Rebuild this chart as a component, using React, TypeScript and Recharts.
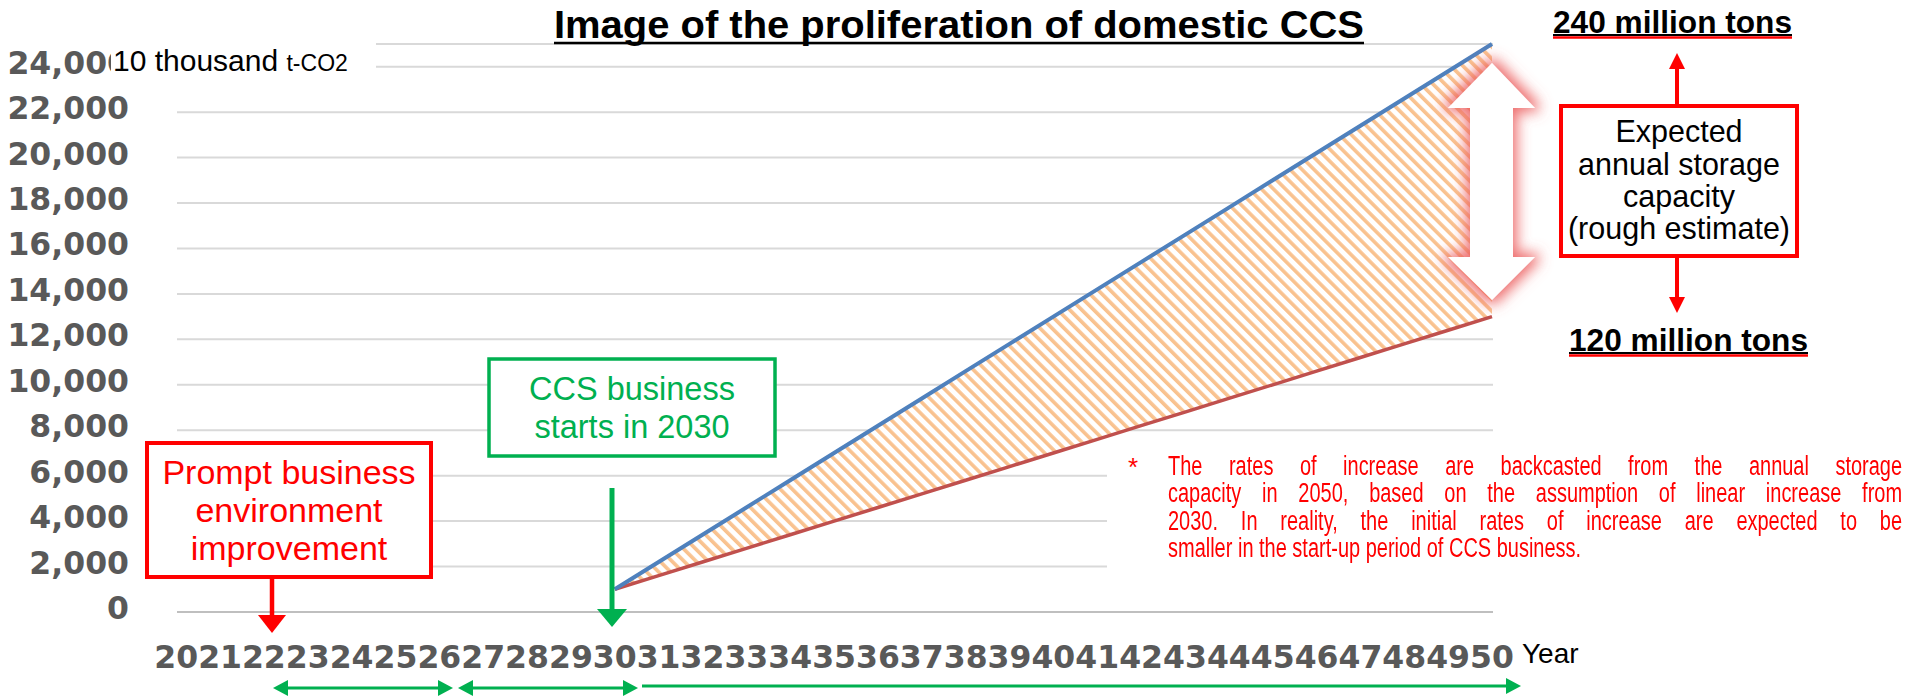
import React from 'react';
import { ComposedChart, Area, Line, XAxis, YAxis, CartesianGrid } from 'recharts';

const YEARS = ['2021', '22', '23', '24', '25', '26', '27', '28', '29', '30', '31', '32', '33', '34', '35', '36', '37', '38', '39', '40', '41', '42', '43', '44', '45', '46', '47', '48', '49', '50'];

// 10 thousand t-CO2, both cases start in 2030
const HIGH_CASE = [null, null, null, null, null, null, null, null, null, 1000, 2200, 3400, 4600, 5800, 7000, 8200, 9400, 10600, 11800, 13000, 14200, 15400, 16600, 17800, 19000, 20200, 21400, 22600, 23800, 25000];
const LOW_CASE = [null, null, null, null, null, null, null, null, null, 1000, 1600, 2200, 2800, 3400, 4000, 4600, 5200, 5800, 6400, 7000, 7600, 8200, 8800, 9400, 10000, 10600, 11200, 11800, 12400, 13000];

const Y_TICKS = [0, 2000, 4000, 6000, 8000, 10000, 12000, 14000, 16000, 18000, 20000, 22000, 24000];

const NOTE_LINES = [
  'The rates of increase are backcasted from the annual storage',
  'capacity in 2050, based on the assumption of linear increase from',
  '2030. In reality, the initial rates of increase are expected to be',
  'smaller in the start-up period of CCS business.',
];

const data = YEARS.map((year, i) => ({
  year,
  high: HIGH_CASE[i],
  low: LOW_CASE[i],
  band: HIGH_CASE[i] == null ? null : [LOW_CASE[i], HIGH_CASE[i]],
}));

const GREEN = '#00B050';
const RED = '#FF0000';
const AXIS_GRAY = '#595959';
const SANS = '"Liberation Sans", Arial, sans-serif';

const XTick = (props: any) => {
  const { x, y, payload, index } = props;
  const first = index === 0;
  return (
    <text x={first ? x + 22 : x} y={y} dy={56} textAnchor={first ? 'end' : 'middle'}
      fontFamily="DejaVu Sans" fontWeight="bold" fontSize={31.5} fill={AXIS_GRAY}>
      {payload.value}
    </text>
  );
};

const YTick = (props: any) => {
  const { x, y, payload } = props;
  return (
    <text x={x} y={y} dy={7} textAnchor="end" fontFamily="DejaVu Sans" fontWeight="bold" fontSize={31.5} fill={AXIS_GRAY}>
      {payload.value.toLocaleString('en-US')}
    </text>
  );
};

function head(tx: number, ty: number, dx: number, dy: number, len: number, half: number) {
  const bx = tx - dx * len;
  const by = ty - dy * len;
  return `${tx},${ty} ${bx - dy * half},${by + dx * half} ${bx + dy * half},${by - dx * half}`;
}

const Arrow = ({ x1, y1, x2, y2, color, w, len, half, both = false }: any) => {
  const d = Math.hypot(x2 - x1, y2 - y1);
  const dx = (x2 - x1) / d;
  const dy = (y2 - y1) / d;
  return (
    <g>
      <line x1={both ? x1 + dx * len * 0.8 : x1} y1={both ? y1 + dy * len * 0.8 : y1}
        x2={x2 - dx * len * 0.8} y2={y2 - dy * len * 0.8} stroke={color} strokeWidth={w} />
      <polygon points={head(x2, y2, dx, dy, len, half)} fill={color} />
      {both && <polygon points={head(x1, y1, -dx, -dy, len, half)} fill={color} />}
    </g>
  );
};

const Overlay = () => (
  <svg width={1918} height={699} style={{ position: 'absolute', left: 0, top: 0, pointerEvents: 'none' }}>
    <defs>
      <pattern id="hatch" patternUnits="userSpaceOnUse" width={8.5} height={8.5} patternTransform="rotate(-45)">
        <rect width={8.5} height={8.5} fill="#fff" />
        <rect width={3.6} height={8.5} fill="#F9C28F" />
      </pattern>
      <filter id="glow" x="-60%" y="-30%" width="220%" height="160%">
        <feMorphology operator="dilate" radius={4} in="SourceAlpha" result="d" />
        <feGaussianBlur in="d" stdDeviation={7} result="b" />
        <feFlood floodColor="#EC5F5F" floodOpacity={0.9} />
        <feComposite in2="b" operator="in" result="g" />
        <feMerge>
          <feMergeNode in="g" />
          <feMergeNode in="SourceGraphic" />
        </feMerge>
      </filter>
    </defs>

    {/* title */}
    <text x={959} y={38} textAnchor="middle" fontFamily={SANS} fontWeight="bold" fontSize={39}
      textLength={810} lengthAdjust="spacingAndGlyphs" fill="#000">
      Image of the proliferation of domestic CCS
    </text>
    <line x1={554} x2={1364} y1={43} y2={43} stroke="#000" strokeWidth={2.5} />

    {/* unit */}
    <rect x={111} y={40} width={265} height={42} fill="#fff" />
    <text x={113} y={71} fontFamily={SANS} fontSize={30} fill="#000">
      <tspan>10 thousand </tspan>
      <tspan fontSize={23}>t-CO2</tspan>
    </text>

    {/* prompt box */}
    <rect x={147} y={443} width={284} height={134} fill="#fff" stroke={RED} strokeWidth={4} />
    <g fontFamily={SANS} fontSize={34} fill={RED} textAnchor="middle">
      <text x={289} y={484}>Prompt business</text>
      <text x={289} y={522}>environment</text>
      <text x={289} y={560}>improvement</text>
    </g>
    <Arrow x1={272} y1={579} x2={272} y2={633} color={RED} w={4.5} len={18} half={14} />

    {/* CCS start box */}
    <rect x={489} y={359} width={286} height={97} fill="#fff" stroke={GREEN} strokeWidth={3.5} />
    <g fontFamily={SANS} fontSize={32.5} fill={GREEN} textAnchor="middle">
      <text x={632} y={400}>CCS business</text>
      <text x={632} y={438}>starts in 2030</text>
    </g>
    <Arrow x1={612} y1={488} x2={612} y2={627} color={GREEN} w={5} len={18} half={15} />

    {/* period arrows */}
    <Arrow x1={273} y1={688} x2={453} y2={688} color={GREEN} w={3} len={15} half={8} both />
    <Arrow x1={458} y1={688} x2={638} y2={688} color={GREEN} w={3} len={15} half={8} both />
    <Arrow x1={642} y1={686} x2={1521} y2={686} color={GREEN} w={3} len={15} half={8} />

    <text x={1522} y={663} fontFamily={SANS} fontSize={28} fill="#000">Year</text>

    {/* range arrow */}
    <polygon filter="url(#glow)" fill="#fff"
      points="1492,63 1535,108 1513,108 1513,257 1535,257 1492,300 1448,257 1470,257 1470,108 1448,108" />

    {/* expected capacity box */}
    <Arrow x1={1677} y1={106} x2={1677} y2={53} color={RED} w={4} len={16} half={8} />
    <Arrow x1={1677} y1={256} x2={1677} y2={313} color={RED} w={4} len={16} half={8} />
    <rect x={1561} y={106} width={236} height={150} fill="#fff" stroke={RED} strokeWidth={4} />
    <g fontFamily={SANS} fontSize={30.5} fill="#000" textAnchor="middle">
      <text x={1679} y={142}>Expected</text>
      <text x={1679} y={175}>annual storage</text>
      <text x={1679} y={207}>capacity</text>
      <text x={1679} y={239}>(rough estimate)</text>
    </g>

    <text x={1553} y={33} fontFamily={SANS} fontWeight="bold" fontSize={32} textLength={239}
      lengthAdjust="spacingAndGlyphs" fill="#000">240 million tons</text>
    <line x1={1553} x2={1792} y1={35} y2={35} stroke="#000" strokeWidth={2} />
    <line x1={1553} x2={1792} y1={37.5} y2={37.5} stroke={RED} strokeWidth={2.5} />

    <text x={1569} y={351} fontFamily={SANS} fontWeight="bold" fontSize={32} textLength={239}
      lengthAdjust="spacingAndGlyphs" fill="#000">120 million tons</text>
    <line x1={1569} x2={1808} y1={353} y2={353} stroke="#000" strokeWidth={2} />
    <line x1={1569} x2={1808} y1={355.5} y2={355.5} stroke={RED} strokeWidth={2.5} />

    {/* footnote background */}
    <rect x={1107} y={448} width={811} height={145} fill="#fff" />
    <text x={1128} y={476} fontFamily={SANS} fontSize={26} fill={RED}>*</text>
  </svg>
);

const Note = () => (
  <div style={{
    position: 'absolute', left: 1168, top: 453, width: 992, transform: 'scaleX(0.74)',
    transformOrigin: 'left top', fontFamily: SANS, fontSize: 27, lineHeight: '27.3px', color: RED,
  }}>
    {NOTE_LINES.map((t, i) => (
      <div key={i} style={{ textAlign: 'justify', textAlignLast: i < 3 ? 'justify' : 'left', whiteSpace: 'nowrap' }}>{t}</div>
    ))}
  </div>
);

export default function App() {
  return (
    <div style={{ position: 'absolute', left: 0, top: 0, width: 1918, height: 699, background: '#fff', overflow: 'hidden' }}>
      <ComposedChart width={1918} height={699} data={data} margin={{ top: 44, right: 425, bottom: 0, left: 0 }}>
        <CartesianGrid vertical={false} stroke="#D9D9D9" strokeWidth={2} />
        <XAxis dataKey="year" scale="point" padding={{ left: 43, right: 1 }} height={87} interval={0}
          axisLine={{ stroke: '#BFBFBF', strokeWidth: 2 }} tickLine={false} tickSize={0} tickMargin={0} tick={<XTick />} />
        <YAxis domain={[0, 25000]} ticks={Y_TICKS} width={177} interval={0} axisLine={false} tickLine={false}
          tickSize={0} tickMargin={48} tick={<YTick />} />
        <Area dataKey="band" stroke="none" fill="url(#hatch)" fillOpacity={1} isAnimationActive={false} />
        <Line dataKey="low" stroke="#C0504D" strokeWidth={3.5} dot={false} isAnimationActive={false} />
        <Line dataKey="high" stroke="#4F81BD" strokeWidth={4} dot={false} isAnimationActive={false} />
      </ComposedChart>
      <Overlay />
      <Note />
    </div>
  );
}
